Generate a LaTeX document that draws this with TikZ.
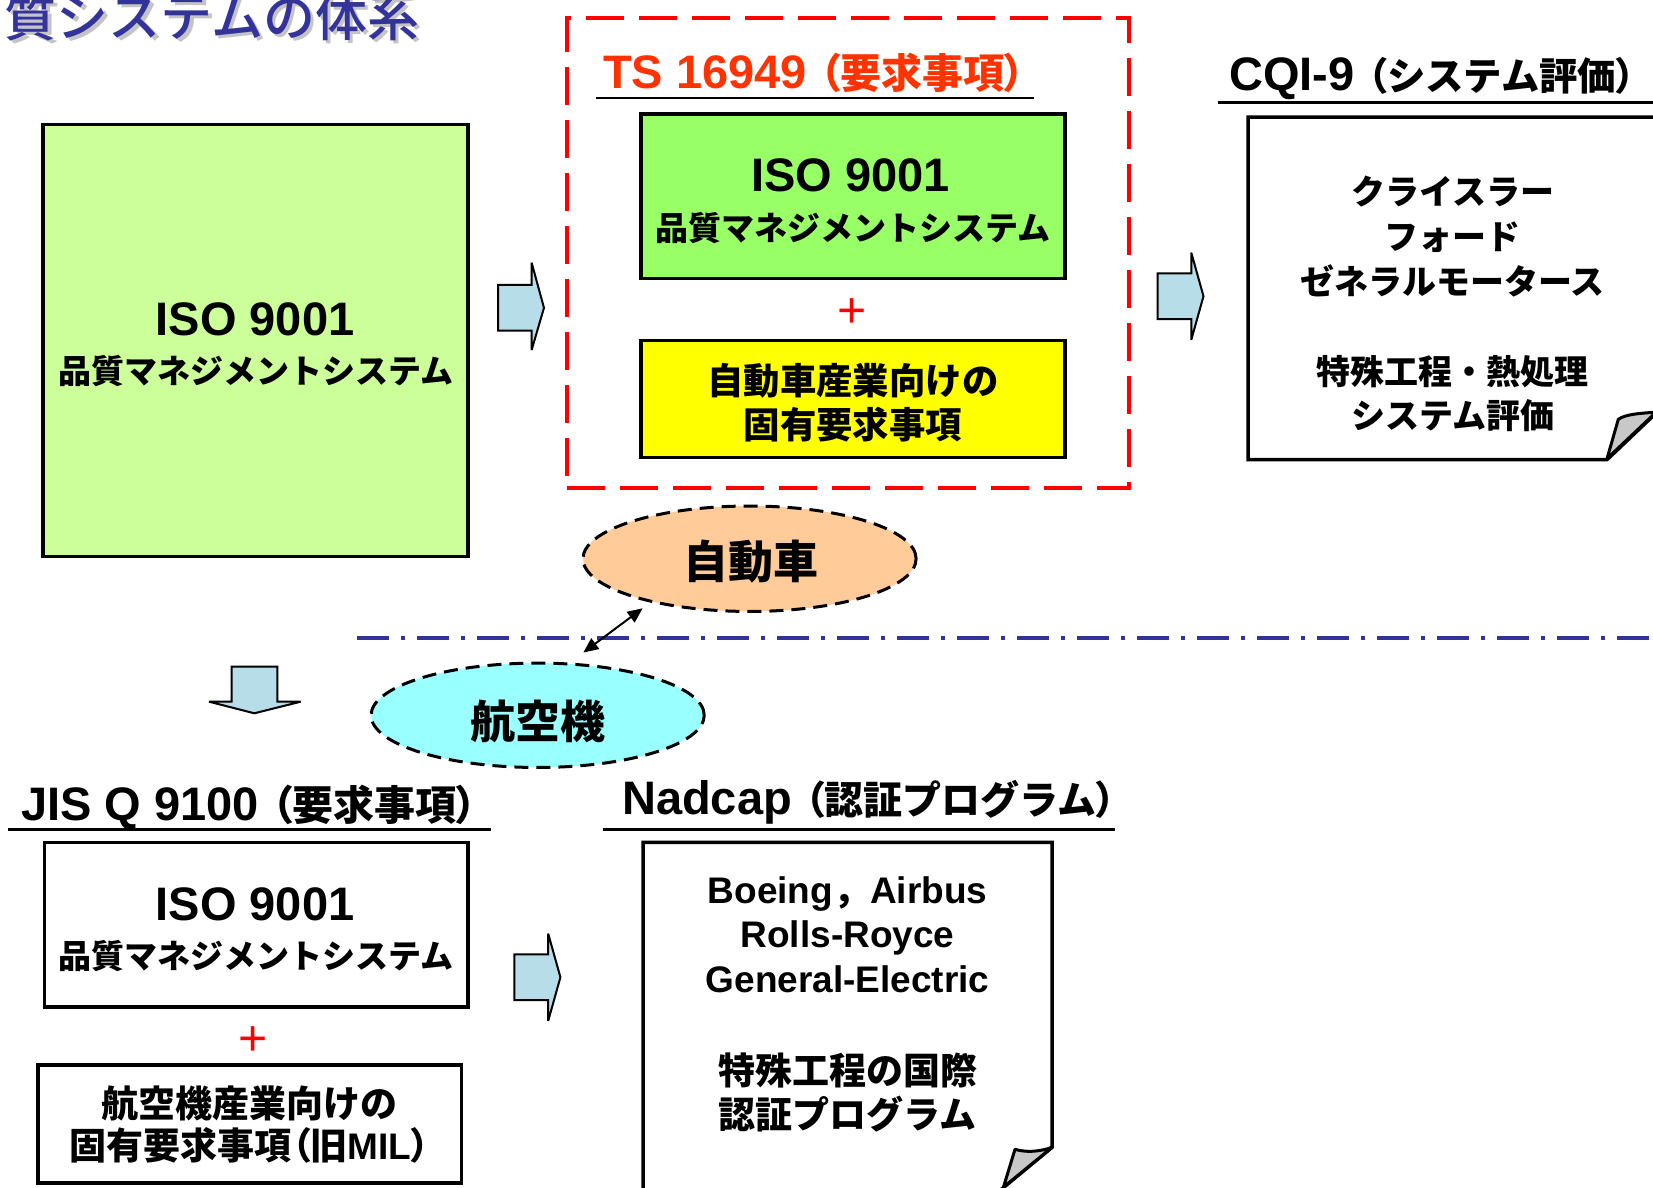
\documentclass[tikz,border=0pt]{standalone}
\usepackage{fontspec}
\setmainfont{Liberation Sans}
\newfontfamily\jp{Noto Sans CJK JP}
\newfontfamily\jpm{Noto Sans CJK JP Medium}
\newfontfamily\jpp{Noto Sans CJK JP}[RawFeature=+palt]
\usetikzlibrary{arrows.meta,shapes.geometric,fit}
\definecolor{ttlblue}{HTML}{333399}
\definecolor{ttlshadow}{HTML}{C4C4C4}
\definecolor{gbig}{HTML}{CCFF99}
\definecolor{ginner}{HTML}{99FF66}
\definecolor{ybox}{HTML}{FFFF00}
\definecolor{orbub}{HTML}{FFCC99}
\definecolor{cybub}{HTML}{99FFFF}
\definecolor{arrowc}{HTML}{B7DDE8}
\definecolor{tsred}{HTML}{FF3300}
\definecolor{flapc}{HTML}{C8C8C8}
\newcommand\lpar{{\jpp （}}
\newcommand\rpar{{\jpp ）}}
\newcommand\JT[2][41]{{\jp\fontsize{#1}{48}\selectfont #2}}
\newcommand\J[1]{{\jp #1}}
\tikzset{
  boxs/.style={draw=black, line width=3.5pt, inner sep=0pt},
  barrow/.style={draw=black, line width=2pt, fill=arrowc, line join=miter, miter limit=1.5},
  uline/.style={draw=black, line width=2.5pt},
  ttl/.style={anchor=base west, inner sep=0pt, font=\bfseries\fontsize{47}{56}\selectfont},
  isot/.style={inner sep=0pt, font=\bfseries\fontsize{47}{56}\selectfont},
  qms/.style={inner sep=0pt, font=\jp\bfseries\fontsize{33}{40}\selectfont},
  plustxt/.style={inner sep=0pt, text=red, font=\fontsize{50}{54}\selectfont},
  bubble/.style={ellipse, draw=black, line width=3pt, dash pattern=on 14pt off 8pt, inner sep=0pt},
  bubtxt/.style={inner sep=0pt, font=\jp\bfseries\fontsize{45}{50}\selectfont},
  flap/.style={draw=black, line width=3pt, fill=flapc, line join=round},
}
\begin{document}
\begin{tikzpicture}[x=1.0542pt,y=-1.0542pt]
\useasboundingbox (0,0) rectangle (1568,1126);

% title
\node[anchor=east, inner sep=0pt, text=ttlshadow, font=\jpm\fontsize{52}{60}\selectfont] (titleshadow) at (401,19) {質システムの体系};
\node[anchor=east, inner sep=0pt, text=ttlblue, font=\jpm\fontsize{52}{60}\selectfont] (title) at (398,16) {質システムの体系};

% big ISO box
\node[boxs, fill=gbig, fit={(41,118) (444,528)}] (isobig) {};
\node[isot] (isobigA) at (242,303) {ISO 9001};
\node[qms] (isobigB) at (243,352) {品質マネジメントシステム};

% arrow 1
\draw[barrow] (472.4,270.3) -- (504.3,270.3) -- (504.3,249.2) -- (516,292) -- (504.3,332) -- (504.3,313.7) -- (472.4,313.7) -- cycle;

% TS frame
\node[draw=red, line width=4pt, dash pattern=on 38pt off 15pt, inner sep=0pt, fit={(538,17) (1071,463)}] (tsframe) {};
\node[ttl, text=tsred] (tstitle) at (572,84) {TS 16949 \JT{\lpar 要求事項\rpar}};
\draw[uline] (565,93) -- (981,93);
\node[boxs, fill=ginner, fit={(608,108) (1010,264)}] (isots) {};
\node[isot] (isotsA) at (807,166) {ISO 9001};
\node[qms] (isotsB) at (809,216) {品質マネジメントシステム};
\node[plustxt] (plus1) at (808,297) {+};
\node[boxs, fill=ybox, fit={(608,323) (1010,434)}] (autoreq) {};
\node[inner sep=0pt, align=center, font=\jp\bfseries\fontsize{36.4}{44.3}\selectfont] (autoreqT) at (809,382) {自動車産業向けの\\固有要求事項};

% arrow 2
\draw[barrow] (1098,259.3) -- (1130,259.3) -- (1130,239.6) -- (1141.6,281) -- (1130,322.4) -- (1130,302.7) -- (1098,302.7) -- cycle;

% CQI-9
\node[ttl] (cqititle) at (1166,86) {CQI-9 \JT[38.4]{\lpar システム評価\rpar}};
\draw[uline] (1155,97) -- (1575,97);
\path[draw=black, line width=3.5pt, fill=white, line join=miter] (1575,111) -- (1184,111) -- (1184,436) -- (1524.4,436) -- (1575,388);
\path[flap] (1524.4,435) -- (1535.1,397.7) .. controls (1542,393) and (1555,392) .. (1571,391) -- cycle;
\node[inner sep=0pt, align=center, font=\jp\bfseries\fontsize{34}{44.8}\selectfont] (cqitext) at (1378,288.5) {クライスラー\\フォード\\ゼネラルモータース\\[44.8pt]特殊工程・熱処理\\システム評価};

% bubbles
\node[bubble, fill=orbub, minimum width=316*1.0542pt, minimum height=100*1.0542pt] (car) at (711,530) {};
\node[bubtxt] (carT) at (712,533) {自動車};
\node[bubble, fill=cybub, minimum width=316*1.0542pt, minimum height=99*1.0542pt] (plane) at (510,678.5) {};
\node[bubtxt] (planeT) at (510,684) {航空機};

% divider
\draw[ttlblue, line width=4.5pt, dash pattern=on 32pt off 12pt on 4pt off 12pt] (338.6,605) -- (1580,605);

% double arrow
\coordinate (dA) at (609.6,577);
\coordinate (dB) at (553.3,619);
\draw[line width=2pt, {Triangle[length=15pt,width=13pt]}-{Triangle[length=15pt,width=13pt]}] (dB) -- (dA);

% down arrow
\draw[barrow] (219.8,632.4) -- (263,632.4) -- (263,665.6) -- (285.2,665.6) -- (241.2,676.6) -- (198.3,665.6) -- (219.8,665.6) -- cycle;

% JIS Q 9100
\node[ttl] (jistitle) at (20,778) {JIS Q 9100 \JT{\lpar 要求事項\rpar}};
\draw[uline] (8,787) -- (466,787);
\node[boxs, fill=white, fit={(42,799) (444,955)}] (isojis) {};
\node[isot] (isojisA) at (242,858) {ISO 9001};
\node[qms] (isojisB) at (243,907) {品質マネジメントシステム};
\node[plustxt] (plus2) at (240,988) {+};
\node[boxs, fill=white, fit={(36,1010) (438,1122)}] (aeroreq) {};
\node[inner sep=0pt, align=center, font=\bfseries\fontsize{37}{42}\selectfont] (aeroreqT) at (237,1067) {\J{航空機産業向けの}\\\J{固有要求事項\lpar 旧}MIL\J{\rpar}};

% arrow 3
\draw[barrow] (488,905.3) -- (520,905.3) -- (520,885.6) -- (531.6,927) -- (520,968.4) -- (520,948.7) -- (488,948.7) -- cycle;

% Nadcap
\node[ttl] (nadtitle) at (590,773) {Nadcap \JT[39]{\lpar 認証プログラム\rpar}};
\draw[uline] (572,787) -- (1058,787);
\path[draw=black, line width=3.5pt, fill=white, line join=miter] (610,1135) -- (610,799) -- (998,799) -- (998,1088.3) -- (944,1133);
\path[flap] (998,1088.3) .. controls (985,1093) and (972,1093) .. (962.8,1090.2) -- (951.9,1126) -- cycle;
\node[inner sep=0pt, align=center, font=\bfseries\fontsize{37}{44.3}\selectfont] (nadtext) at (804,953) {Boeing\J{，}Airbus\\Rolls-Royce\\General-Electric\\[48pt]\J{特殊工程の国際}\\\J{認証プログラム}};
\end{tikzpicture}
\end{document}
